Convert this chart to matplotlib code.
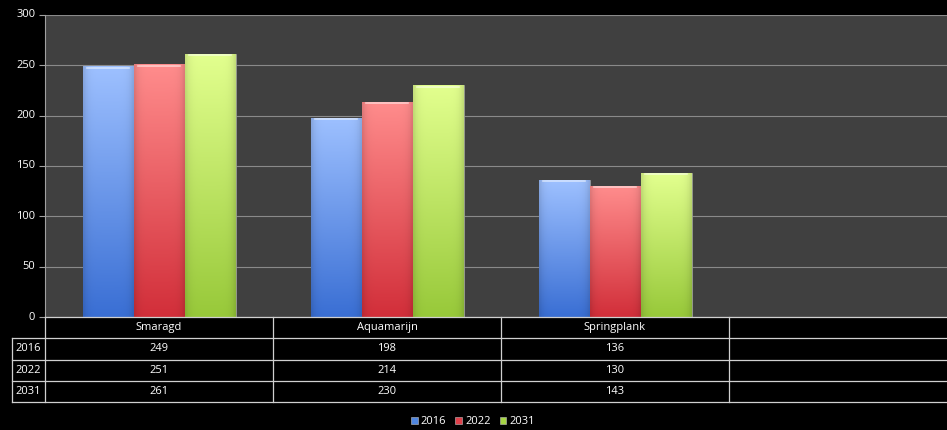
import numpy as np
import matplotlib
matplotlib.use("Agg")
import matplotlib.pyplot as plt
from matplotlib.patches import Patch
from matplotlib.colors import to_rgb

categories = ["Smaragd", "Aquamarijn", "Springplank", ""]
series = ["2016", "2022", "2031"]
vals_2016 = [249, 198, 136]
vals_2022 = [251, 214, 130]
vals_2031 = [261, 230, 143]
yticks = [0, 50, 100, 150, 200, 250, 300]

all_vals = [vals_2016, vals_2022, vals_2031]
tops = ["#9dc0ff", "#ff8c8c", "#e2ff8e"]
bottoms = ["#3a6fd4", "#d22f3a", "#98c93a"]
mids = ["#4f86e0", "#e0404a", "#a6d544"]

plt.rcParams['font.family'] = ['Open Sans', 'DejaVu Sans']
W, H = 947, 430
fig = plt.figure(figsize=(W / 100, H / 100), dpi=100, facecolor="black")

# plot area in pixels
left, right, top, bottom = 45, 947, 15, 317
slot = 228.0
xmin = -0.5
xmax = xmin + (right - left) / slot

ax = fig.add_axes([left / W, 1 - bottom / H, (right - left) / W, (bottom - top) / H])
ax.set_facecolor("#404040")
ax.set_xlim(xmin, xmax)
ax.set_ylim(0, 300)
ax.set_yticks(yticks)
ax.set_yticklabels([str(t) for t in yticks], color="white", fontsize=8)
ax.tick_params(axis="y", length=4, color="#a0a0a0", pad=3)
ax.set_xticks([])
ax.grid(axis="y", color="#8a8a8a", linewidth=0.8)
ax.set_axisbelow(True)
for s in ["top", "right", "bottom"]:
    ax.spines[s].set_visible(False)
ax.spines["left"].set_color("#a0a0a0")
# align tick label 0 slightly up like reference
for lbl in ax.get_yticklabels():
    lbl.set_verticalalignment("center")

bw = 51 / slot
x = np.arange(len(vals_2016))


def gradient_img(c_top, c_bot):
    ny, nx = 64, 32
    t = np.linspace(0, 1, ny)[:, None]
    ct = np.array(to_rgb(c_top))
    cb = np.array(to_rgb(c_bot))
    img = cb[None, None, :] + (ct - cb)[None, None, :] * t[:, :, None]
    img = np.repeat(img, nx, axis=1)
    u = np.linspace(-1, 1, nx)
    shade = 1 - 0.12 * np.abs(u) ** 6
    img = img * shade[None, :, None]
    return np.clip(img, 0, 1)


for i, vals in enumerate(all_vals):
    bars = ax.bar(x + (i - 1) * bw, vals, bw, color=mids[i],
                  edgecolor="#9a9a9a", linewidth=0.6, zorder=2)
    for b in bars:
        x0, w, h = b.get_x(), b.get_width(), b.get_height()
        im = ax.imshow(gradient_img(tops[i], bottoms[i]), origin="lower",
                       extent=(x0, x0 + w, 0, h), aspect="auto", zorder=3)
        im.set_clip_path(b)
        # light bevel at the top
        ax.plot([x0 + w * 0.08, x0 + w * 0.92], [h - 1.2, h - 1.2],
                color="white", alpha=0.55, lw=1.2, zorder=4)

ax.set_xlim(xmin, xmax)
ax.set_ylim(0, 300)

# data table
tb_top, tb_bot, lab_left = 317, 402, 12
tax = fig.add_axes([lab_left / W, 1 - tb_bot / H, (W - lab_left) / W, (tb_bot - tb_top) / H])
tax.set_facecolor("black")
tax.axis("off")
txmin = xmin - (left - lab_left) / slot
tax.set_xlim(txmin, xmax)
tax.set_ylim(4, 0)
lc = "#d0d0d0"
lw = 0.9
# horizontal lines
tax.plot([xmin, xmax], [0, 0], color=lc, lw=lw, clip_on=False)
for r in [1, 2, 3, 4]:
    tax.plot([txmin, xmax], [r, r], color=lc, lw=lw, clip_on=False)
# vertical lines
tax.plot([txmin, txmin], [1, 4], color=lc, lw=lw, clip_on=False)
for k in range(len(categories)):
    tax.plot([k - 0.5, k - 0.5], [0, 4], color=lc, lw=lw, clip_on=False)

for k, c in enumerate(categories):
    tax.text(k, 0.5, c, color="white", ha="center", va="center", fontsize=8)
for r, (s, vals) in enumerate(zip(series, all_vals)):
    tax.text((txmin + xmin) / 2, r + 1.5, s, color="white", ha="center", va="center", fontsize=8)
    for k, v in enumerate(vals):
        tax.text(k, r + 1.5, str(v), color="white", ha="center", va="center", fontsize=8)

handles = [Patch(facecolor=mids[i], edgecolor="#c0c0c0", linewidth=0.4, label=s)
           for i, s in enumerate(series)]
fig.legend(handles=handles, loc="center", bbox_to_anchor=(473 / W, 1 - 422 / H),
           ncol=3, frameon=False, fontsize=8, labelcolor="white",
           handlelength=0.6, handleheight=0.6, handletextpad=0.3, columnspacing=0.8)

fig.savefig("out.png", dpi=100, facecolor="black")
